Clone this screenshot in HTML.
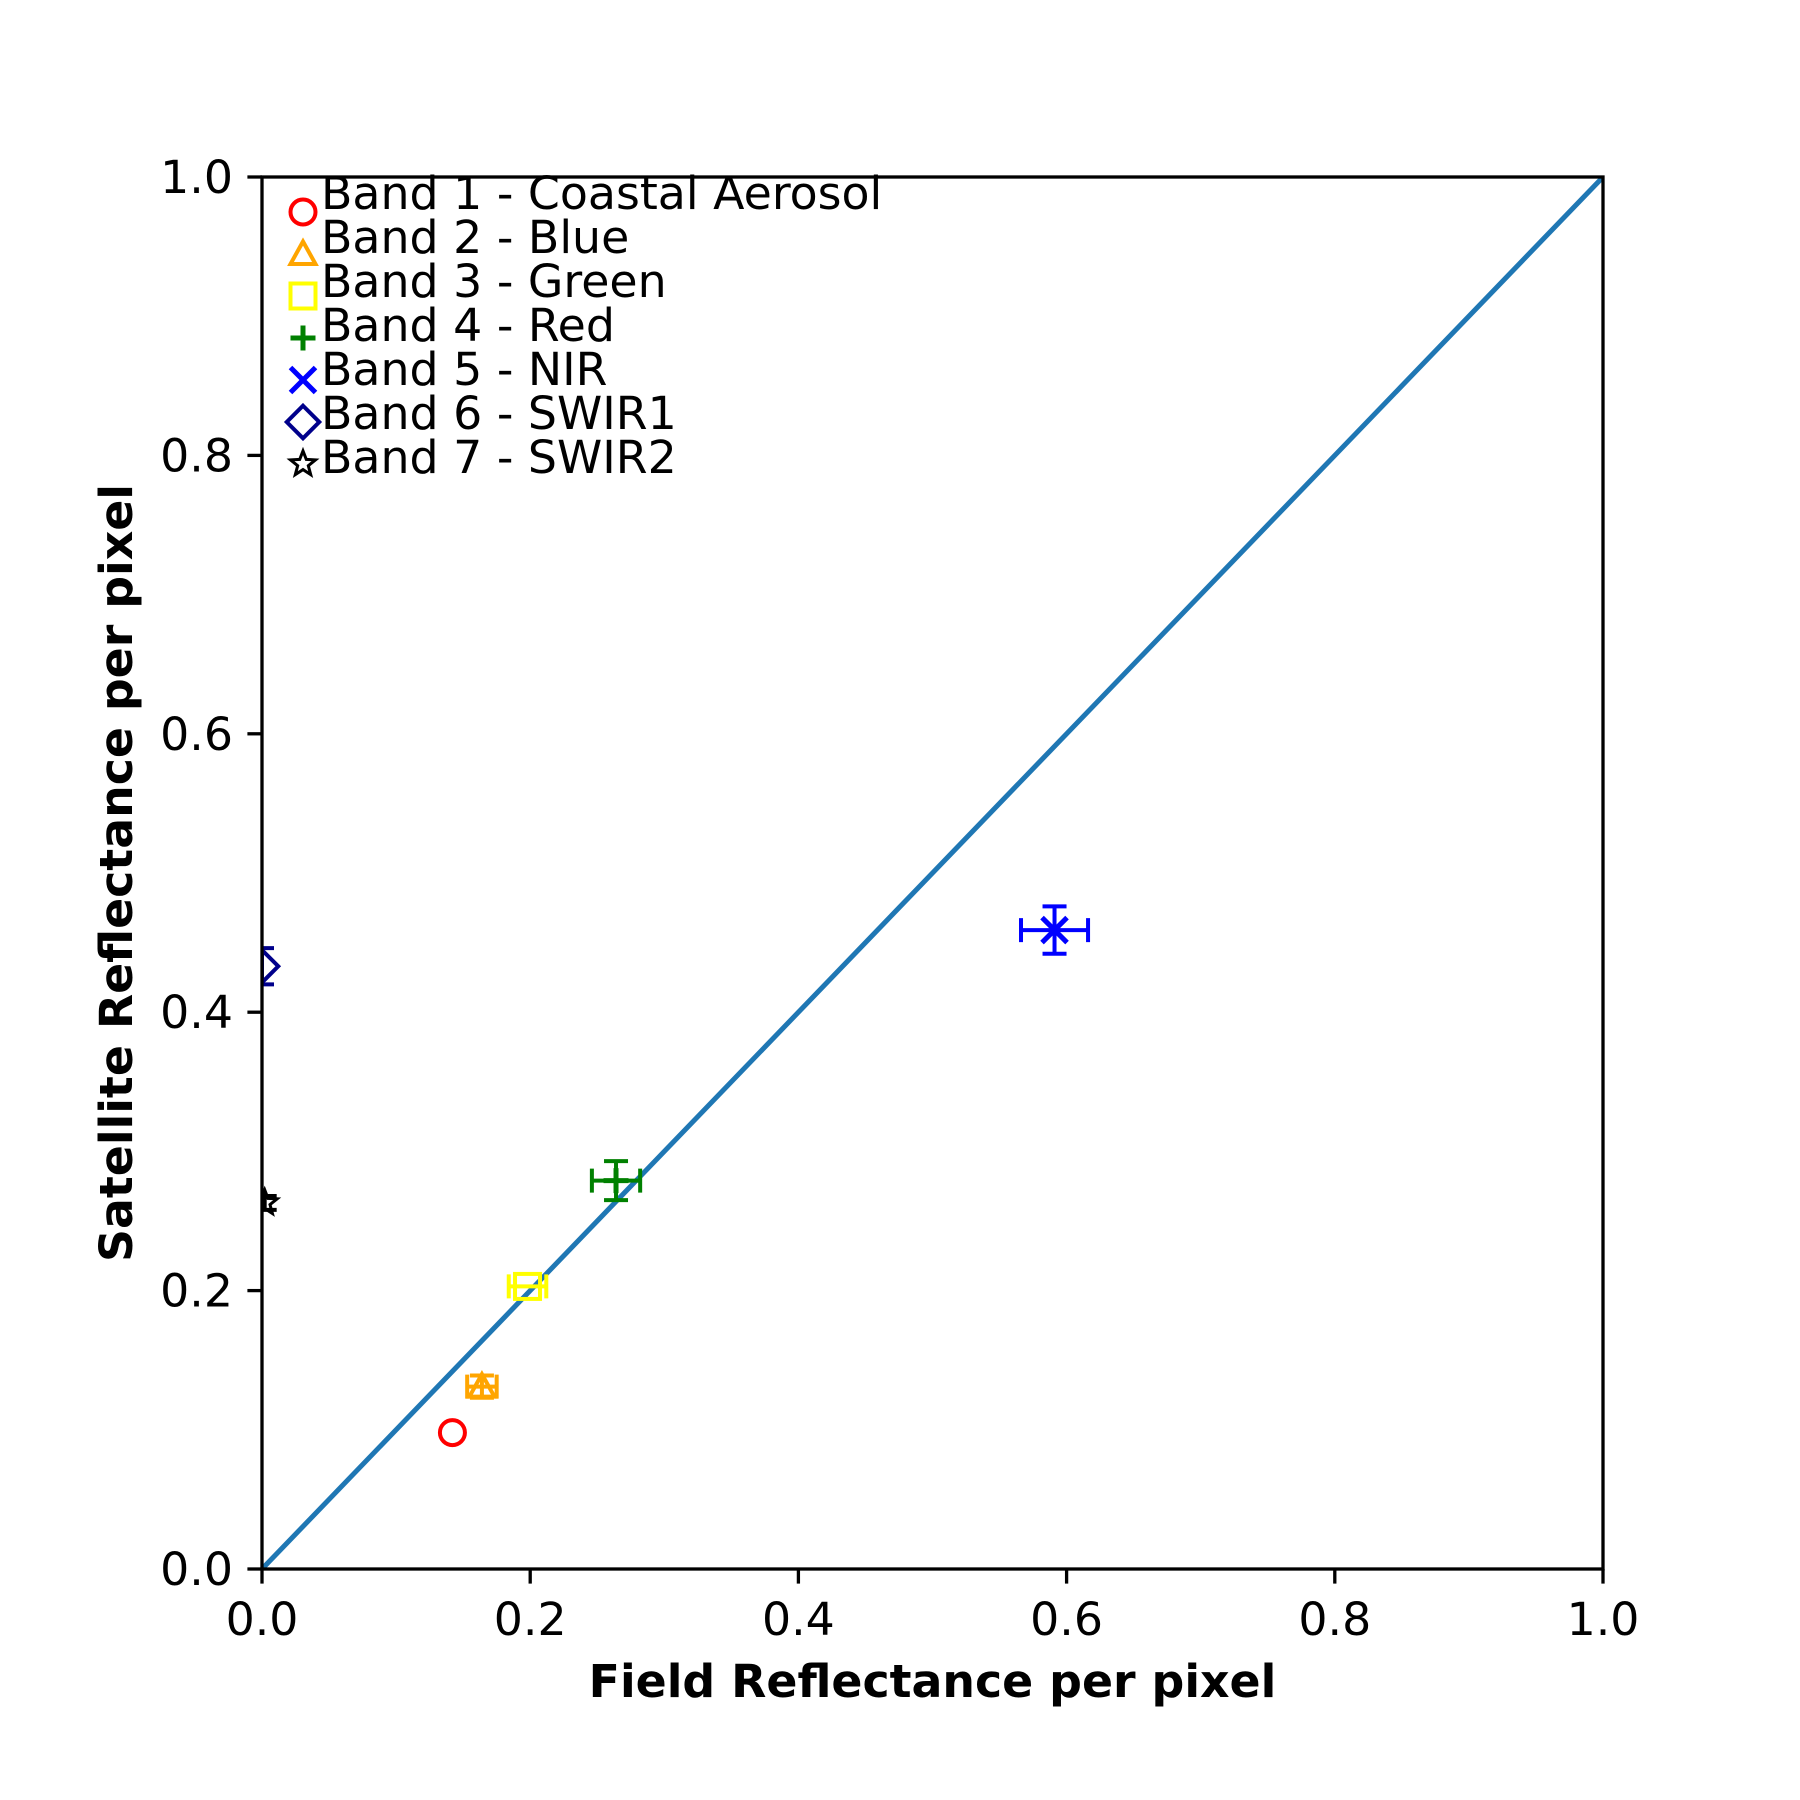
<!DOCTYPE html>
<html><head><meta charset="utf-8"><style>
html,body{margin:0;padding:0;background:#fff}
svg{display:block}
text{font-family:"DejaVu Sans","Liberation Sans",sans-serif}
</style></head><body>
<svg id="chart" width="1800" height="1800" viewBox="0 0 1800 1800" xmlns="http://www.w3.org/2000/svg">
<defs><clipPath id="clip"><rect x="262" y="177" width="1341" height="1392"/></clipPath></defs>
<rect x="0" y="0" width="1800" height="1800" fill="#fff"/>
<g id="plot" clip-path="url(#clip)"></g>
<g id="axes"></g>
<g id="legend"></g>
</svg>
<script>
const bandNames = ["Band 1 - Coastal Aerosol","Band 2 - Blue","Band 3 - Green","Band 4 - Red","Band 5 - NIR","Band 6 - SWIR1","Band 7 - SWIR2"];
const bandColors = ["red","orange","yellow","green","blue","darkblue","black"];
const bandMarkers = ["circle","triangle","square","plus","x","diamond","star"];
const fieldX = [0.142, 0.164, 0.198, 0.264, 0.591, 0.0, 0.002];
const satY = [0.098, 0.131, 0.203, 0.279, 0.459, 0.433, 0.263];
const xErr = [0.0, 0.011, 0.014, 0.018, 0.025, 0.0, 0.0];
const yErr = [0.0, 0.008, 0.0, 0.014, 0.017, 0.013, 0.005];
const xTicks = [0, 0.2, 0.4, 0.6, 0.8, 1.0];
const yTicks = [0, 0.2, 0.4, 0.6, 0.8, 1.0];
const xTickLabels = ["0.0","0.2","0.4","0.6","0.8","1.0"];
const yTickLabels = ["0.0","0.2","0.4","0.6","0.8","1.0"];

const X0=262, X1=1603, Y0=1569, Y1=177;
const FS=45.8;
const sx = v => X0 + v*(X1-X0);
const sy = v => Y0 - v*(Y0-Y1);
const NS="http://www.w3.org/2000/svg";
function mk(tag, attrs, parent){const e=document.createElementNS(NS,tag);for(const k in attrs)e.setAttribute(k,attrs[k]);parent.appendChild(e);return e;}
const plot=document.getElementById('plot'), axes=document.getElementById('axes'), legend=document.getElementById('legend');

function marker(type, cx, cy, color, parent){
  const g=mk('g',{fill:'none',stroke:color,'stroke-width':4},parent);
  const r=12.5;
  if(type==='circle') mk('circle',{cx:cx,cy:cy,r:r},g);
  else if(type==='triangle') mk('polygon',{points:`${cx},${cy-r} ${cx+r},${cy+r*0.8} ${cx-r},${cy+r*0.8}`},g);
  else if(type==='square') mk('rect',{x:cx-r,y:cy-r,width:2*r,height:2*r},g);
  else if(type==='plus'){g.setAttribute('stroke-width',5);mk('path',{d:`M${cx-r},${cy}H${cx+r}M${cx},${cy-r}V${cy+r}`},g);}
  else if(type==='x'){g.setAttribute('stroke-width',5);mk('path',{d:`M${cx-r},${cy-r}L${cx+r},${cy+r}M${cx-r},${cy+r}L${cx+r},${cy-r}`},g);}
  else if(type==='diamond') mk('polygon',{points:`${cx},${cy-r*1.3} ${cx+r*1.3},${cy} ${cx},${cy+r*1.3} ${cx-r*1.3},${cy}`},g);
  else if(type==='star'){let p=[];for(let i=0;i<10;i++){const a=-Math.PI/2+i*Math.PI/5;const rr=i%2?r*0.45:r*1.05;p.push((cx+rr*Math.cos(a)).toFixed(1)+','+(cy+rr*Math.sin(a)).toFixed(1));}g.setAttribute('stroke-width',3);mk('polygon',{points:p.join(' ')},g);}
  return g;
}

const diag=mk('line',{x1:sx(0),y1:sy(0),x2:sx(1),y2:sy(1),stroke:'#1f77b4','stroke-width':5},plot);



for(let i=0;i<bandNames.length;i++){
  const cx=sx(fieldX[i]), cy=sy(satY[i]), c=bandColors[i];
  const g=mk('g',{},plot);
  
  
  const eg=mk('g',{stroke:c,'stroke-width':4,fill:'none'},g);
  if(xErr[i]>0){const a=sx(fieldX[i]-xErr[i]), b=sx(fieldX[i]+xErr[i]);
    mk('path',{d:`M${a},${cy}H${b}M${a},${cy-12}V${cy+12}M${b},${cy-12}V${cy+12}`},eg);}
  if(yErr[i]>0){const a=sy(satY[i]-yErr[i]), b=sy(satY[i]+yErr[i]);
    mk('path',{d:`M${cx},${a}V${b}M${cx-12},${a}H${cx+12}M${cx-12},${b}H${cx+12}`},eg);}
  marker(bandMarkers[i],cx,cy,c,g);
}

const frame=mk('rect',{x:X0,y:Y1,width:X1-X0,height:Y0-Y1,fill:'none',stroke:'#000','stroke-width':3.3},axes);


for(let i=0;i<xTicks.length;i++){
  const x=sx(xTicks[i]);
  mk('line',{x1:x,y1:Y0,x2:x,y2:Y0+14.6,stroke:'#000','stroke-width':3.3},axes);
  const t=mk('text',{x:x,y:Y0+66,'text-anchor':'middle','font-size':FS,fill:'#000'},axes);
  t.textContent=xTickLabels[i];
  
  
}
for(let i=0;i<yTicks.length;i++){
  const y=sy(yTicks[i]);
  mk('line',{x1:X0-14.6,y1:y,x2:X0,y2:y,stroke:'#000','stroke-width':3.3},axes);
  const t=mk('text',{x:X0-29,y:y+16,'text-anchor':'end','font-size':FS,fill:'#000'},axes);
  t.textContent=yTickLabels[i];
  
  
}
const xt=mk('text',{x:(X0+X1)/2,y:1697,'text-anchor':'middle','font-size':FS,'font-weight':'bold',fill:'#000'},axes);
xt.textContent='Field Reflectance per pixel';


const yt=mk('text',{x:0,y:0,'text-anchor':'middle','font-size':FS,'font-weight':'bold',fill:'#000',transform:`translate(132,${(Y0+Y1)/2}) rotate(-90)`},axes);
yt.textContent='Satellite Reflectance per pixel';



for(let i=0;i<bandNames.length;i++){
  const my=212+i*42;
  const g=mk('g',{},legend);
  
  
  marker(bandMarkers[i],303,my,bandColors[i],g);
  const t=mk('text',{x:321,y:209+i*44,'font-size':FS,fill:'#000'},g);
  t.textContent=bandNames[i];
}
</script>
</body></html>
